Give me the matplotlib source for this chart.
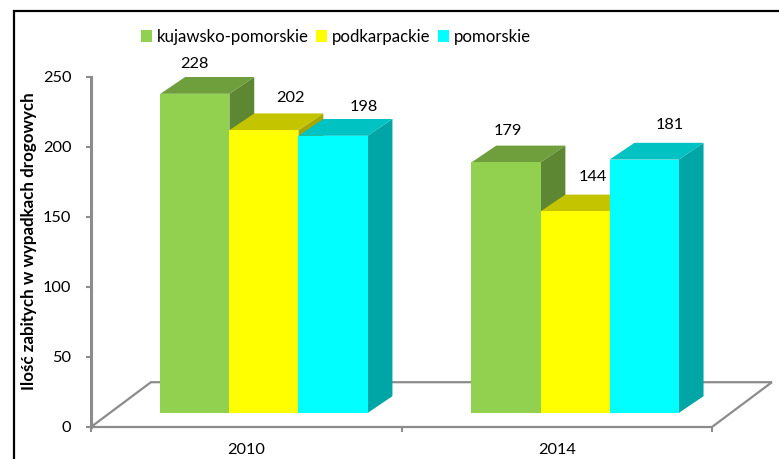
import matplotlib
matplotlib.use("Agg")
import matplotlib.pyplot as plt
from matplotlib.patches import Patch, Polygon, Rectangle
import numpy as np

plt.rcParams['font.family'] = ['Lato', 'DejaVu Sans']

years = ['2010', '2014']
regions = ['kujawsko-pomorskie', 'podkarpackie', 'pomorskie']
kujawsko = [228, 179]
podkarpackie = [202, 144]
pomorskie = [198, 181]
y_ticks = [0, 50, 100, 150, 200, 250]

front_colors = ['#92D050', '#FFFF00', '#00FFFF']
top_colors = ['#6F9E3D', '#C4C400', '#00C2C2']
side_colors = ['#5E8733', '#A6A600', '#00A5A5']
grey = '#8C8C8C'

W, H = 779, 459
fig = plt.figure(figsize=(W / 100, H / 100), dpi=100)
ax = fig.add_axes([91 / W, 1 - 427 / H, 621 / W, 350 / H])
ax.set_xlim(0, 2)
ax.set_ylim(0, 250)
ax.patch.set_visible(False)

# pseudo 3d offsets, in data units
bar_w = 0.2225
dep_x = 0.08
dep_y = 12
lift = 10
floor_x = 0.193
floor_y = 32

# floor outline
ax.plot([0, floor_x, 2 + floor_x, 2, 0], [0, floor_y, floor_y, 0, 0],
        color=grey, lw=1.6, zorder=1, clip_on=False, solid_joinstyle='miter')
ax.plot([0, 0], [0, 250], color=grey, lw=2.2, zorder=1, clip_on=False)

series = [kujawsko, podkarpackie, pomorskie]
centers = np.array([0.557, 1.559])
z = 3
for i, vals in enumerate(series):
    for c, v in zip(centers, vals):
        left = c + (i - 1.5) * bar_w
        right = left + bar_w
        top = lift + v
        ax.add_patch(Polygon([(right, lift), (right + dep_x, lift + dep_y),
                              (right + dep_x, top + dep_y), (right, top)],
                             color=side_colors[i], lw=0, zorder=z))
        ax.add_patch(Polygon([(left, top), (left + dep_x, top + dep_y),
                              (right + dep_x, top + dep_y), (right, top)],
                             color=top_colors[i], lw=0, zorder=z))
        ax.bar(left, v, width=bar_w, bottom=lift, align='edge',
               color=front_colors[i], lw=0, zorder=z)
    z += 1

# value labels, nudged by hand (pixels from the bar's top centre)
label_dx = [[0, 2], [27, 18], [31, 26]]
label_dy = [[30, 31], [32, 34], [29, 35]]
for i, vals in enumerate(series):
    for j, v in enumerate(vals):
        xp = centers[j] + (i - 1) * bar_w + label_dx[i][j] / 310.5
        yp = lift + v + label_dy[i][j] / 1.4
        ax.text(xp, yp, str(v), ha='center', va='center',
                fontsize=11.8, color='black', zorder=10)

ax.set_xticks([0, 1, 2])
ax.set_xticklabels([])
ax.set_yticks(y_ticks)
ax.tick_params(axis='y', length=3.6, width=1.5, color=grey, labelsize=11.8, pad=10.5)
ax.tick_params(axis='x', length=3.6, width=1.5, color=grey)
for s in ax.spines.values():
    s.set_visible(False)
for x, y in zip([0.5, 1.5], years):
    ax.text(x, -16.5, y, ha='center', va='center', fontsize=11.8, clip_on=False)

fig.text(29 / W, 1 - 241 / H, 'Ilość zabitych w wypadkach drogowych', rotation=90,
         ha='center', va='center', fontsize=12.2, fontweight='bold')

handles = [Patch(color=col, lw=0) for col in front_colors]
fig.legend(handles, regions, ncol=3, loc='center left', bbox_to_anchor=(141 / W, 1 - 37 / H),
           frameon=False, fontsize=12.1, handlelength=0.66, handleheight=0.66,
           handletextpad=0.3, columnspacing=0.42, borderpad=0, borderaxespad=0)

fig.add_artist(Rectangle((14 / W, -0.1), 1.1, 1 - 11 / H + 0.1, transform=fig.transFigure,
                         fill=False, ec='black', lw=1.6))

fig.savefig('out.png', dpi=100)
